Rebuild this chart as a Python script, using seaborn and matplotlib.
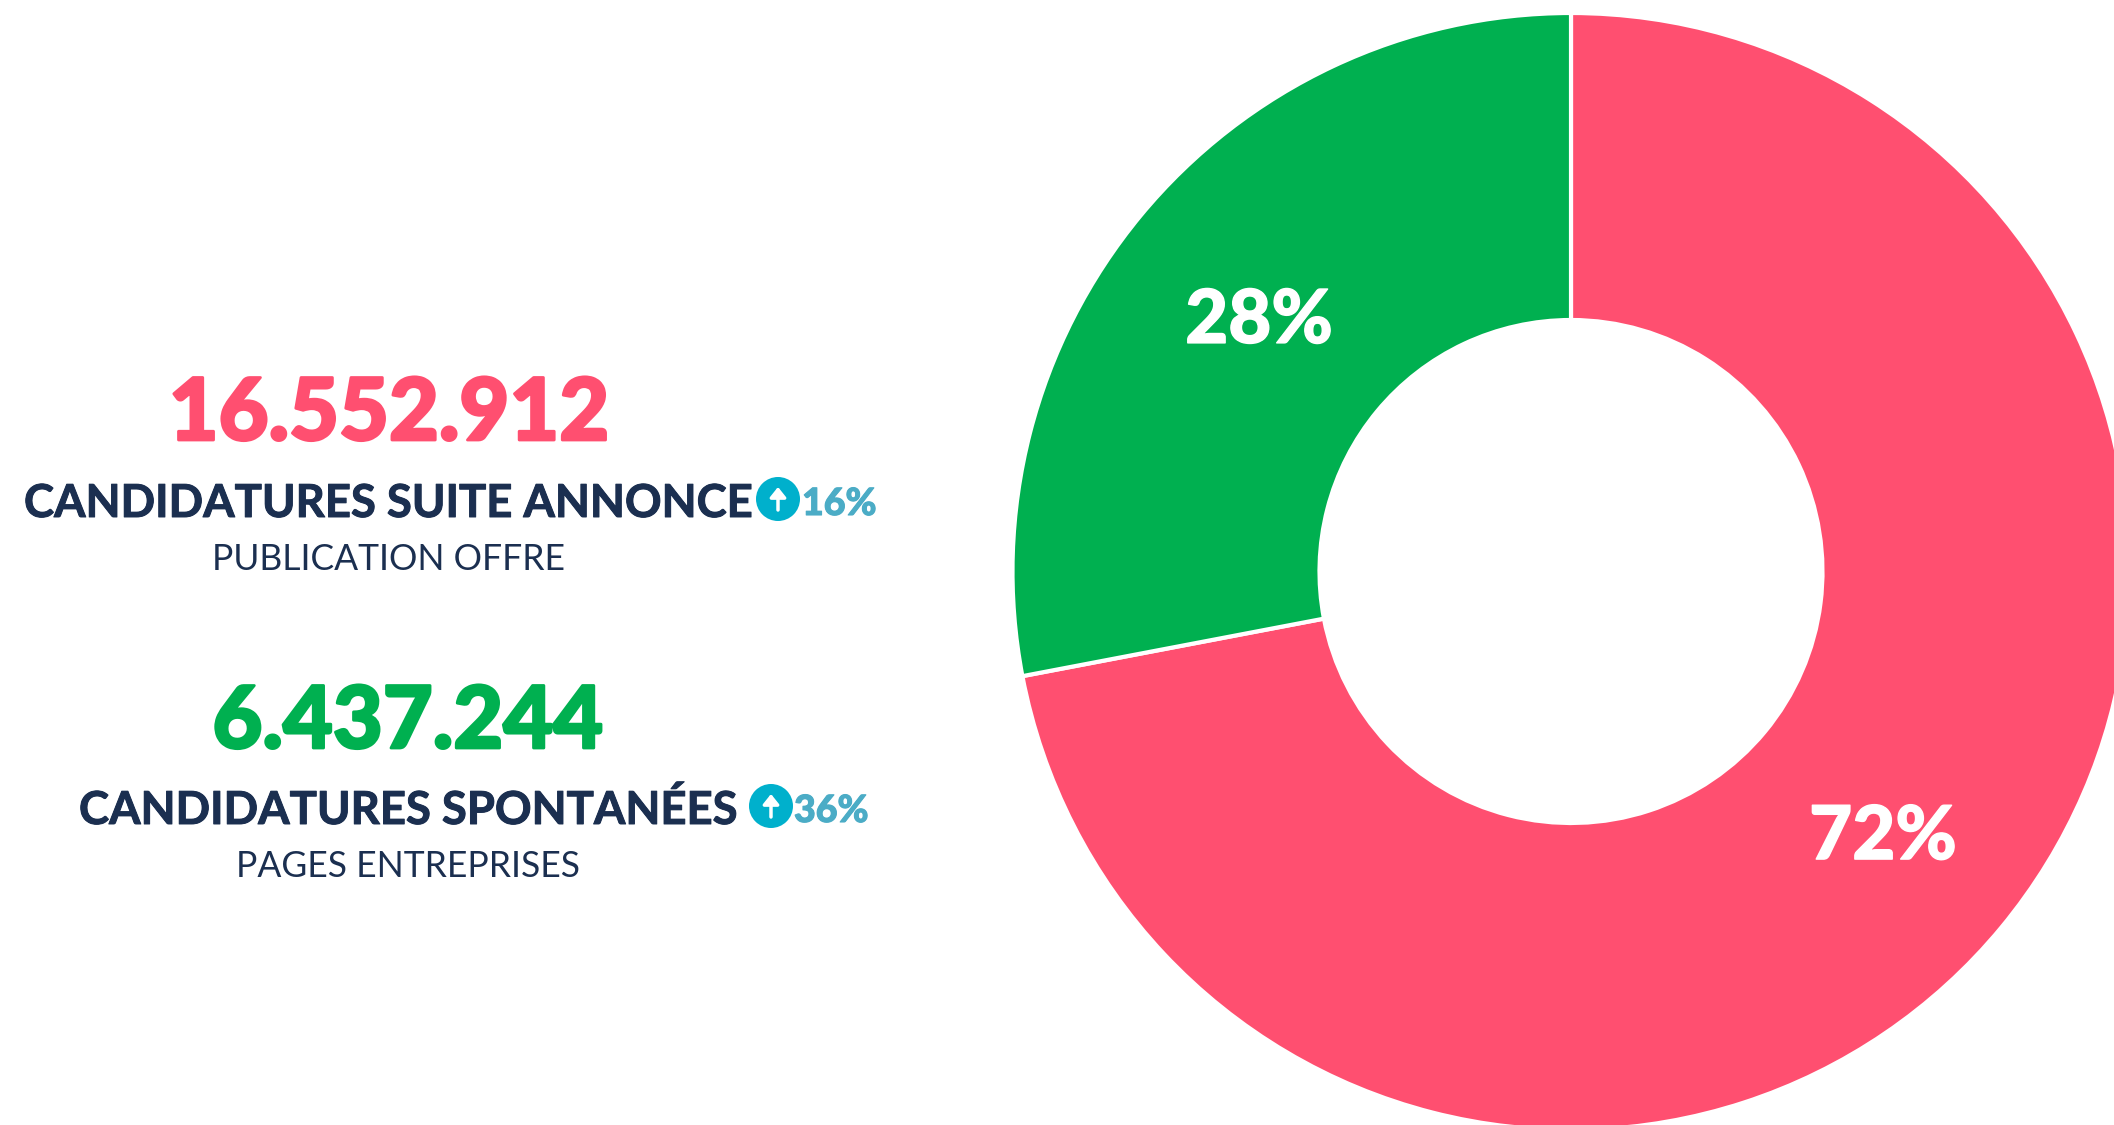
import matplotlib
matplotlib.use("Agg")
import matplotlib.pyplot as plt
import matplotlib.patheffects as pe
import seaborn as sns
from matplotlib.patches import Circle
from matplotlib.transforms import ScaledTranslation

sns.set_theme(style="white")
plt.rcParams["font.family"] = ["Lato", "Open Sans", "DejaVu Sans"]

# Data
categories = ["Candidatures suite annonce", "Candidatures spontanées"]
values = [16552912, 6437244]
value_labels = ["16.552.912", "6.437.244"]
titles = ["CANDIDATURES SUITE ANNONCE", "CANDIDATURES SPONTANÉES"]
subtitles = ["PUBLICATION OFFRE", "PAGES ENTREPRISES"]
growth = ["16%", "36%"]

palette = sns.color_palette(["#FF4F70", "#00B050"])
NAVY = "#1B2F50"
BADGE = "#00B0CC"
GROWTH = "#4BACC6"


def heavy(width, color):
    return [pe.withStroke(linewidth=width, foreground=color)]


W, H = 2114, 1125
fig = plt.figure(figsize=(W / 100, H / 100), dpi=100, facecolor="white")

# Doughnut, placed in pixels; it runs slightly past the right and bottom edges
cx, cy, R, r = 1571, 571.5, 558.5, 251.5
ax = fig.add_axes([(cx - R) / W, 1 - (cy + R) / H, 2 * R / W, 2 * R / H])
_, _, autotexts = ax.pie(
    values, colors=palette, startangle=90, counterclock=False, radius=1,
    wedgeprops=dict(width=1 - r / R, edgecolor="white", linewidth=3),
    autopct="%.0f%%", pctdistance=0.725,
    textprops=dict(color="white", fontsize=53.5, fontweight="black"),
)
ax.set_xlim(-1, 1)
ax.set_ylim(-1, 1)
ax.set_aspect("equal")
for a in autotexts:
    a.set_transform(a.get_transform() + ScaledTranslation(0, -8 / 100, fig.dpi_scale_trans))
    a.set_path_effects(heavy(1, "white"))

# Text layer in pixel coordinates
t = fig.add_axes([0, 0, 1, 1], facecolor="none")
t.set_xlim(0, W)
t.set_ylim(H, 0)
t.axis("off")

big_x = [389, 408]
big_y = [440, 748]
title_x = [24, 79]
title_y = [517, 824]
sub_x = [388, 408]
sub_y = [570, 877]
badge_x = [778, 771]
badge_y = [499, 806]
pct_x = [802, 794]
pct_y = [515, 822]

for i in range(2):
    t.text(big_x[i], big_y[i], value_labels[i], color=palette[i], fontsize=62,
           fontweight="black", ha="center", va="baseline",
           path_effects=heavy(2, palette[i]))
    t.text(title_x[i], title_y[i], titles[i], color=NAVY, fontsize=32.7,
           fontweight="bold", ha="left", va="baseline",
           path_effects=heavy(0.7, NAVY))
    t.text(sub_x[i], sub_y[i], subtitles[i], color=NAVY, fontsize=25.6,
           fontweight="normal", ha="center", va="baseline")
    t.add_patch(Circle((badge_x[i], badge_y[i]), 22, color=BADGE, lw=0))
    t.annotate("", xy=(badge_x[i], badge_y[i] - 12), xytext=(badge_x[i], badge_y[i] + 11),
               arrowprops=dict(arrowstyle="-|>,head_width=0.4,head_length=0.5",
                               color="white", lw=2.5, shrinkA=0, shrinkB=0))
    t.text(pct_x[i], pct_y[i], growth[i], color=GROWTH, fontsize=27,
           fontweight="black", ha="left", va="baseline",
           path_effects=heavy(0.8, GROWTH))

fig.savefig("out.png", dpi=100, facecolor="white")
